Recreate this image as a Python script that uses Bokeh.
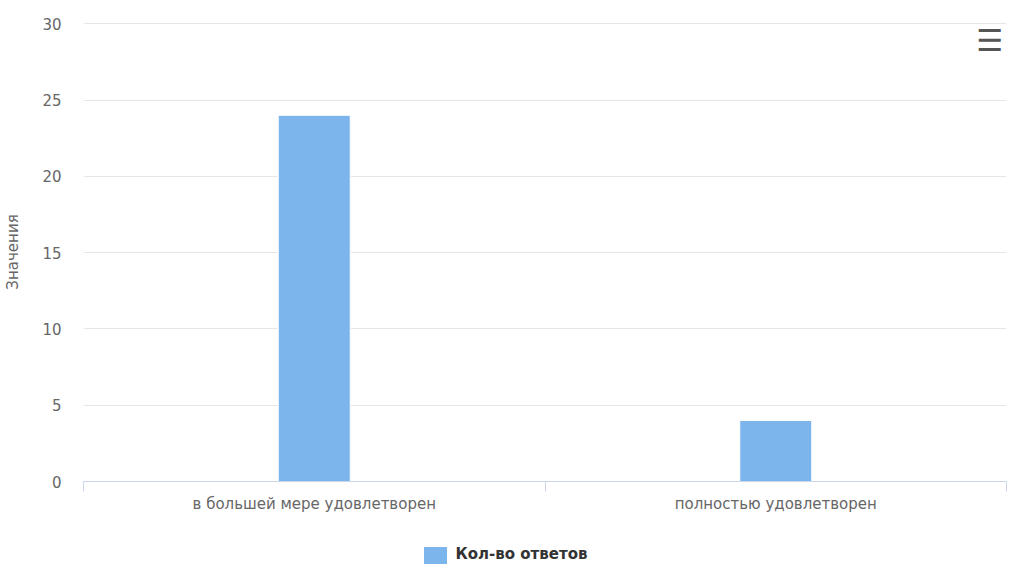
from bokeh.plotting import figure
from bokeh.models import (Range1d, FixedTicker, Label, ColumnDataSource, Div)
from bokeh.layouts import column
from bokeh.embed import file_html
from bokeh.resources import INLINE

categories = ["в большей мере удовлетворен", "полностью удовлетворен"]
values = [24, 4]
series_name = "Кол-во ответов"
series_color = "#7cb5ec"
y_ticks = [0, 5, 10, 15, 20, 25, 30]

xs = [i + 0.5 for i in range(len(categories))]
src = ColumnDataSource(dict(x=xs, top=values))

FONT = "DejaVu Sans"

p = figure(output_backend="svg", toolbar_location=None,
           frame_width=923, frame_height=459,
           min_border_left=83, min_border_right=3,
           min_border_top=22, min_border_bottom=0,
           x_range=Range1d(0, len(categories)), y_range=Range1d(0, 30.08))
p.outline_line_color = None
p.background_fill_color = "white"
p.border_fill_color = "white"

r = p.vbar(x="x", top="top", width=0.156, source=src,
           fill_color=series_color, line_color="white", line_width=1)

# x axis
xa = p.xaxis[0]
xa.ticker = FixedTicker(ticks=xs, minor_ticks=list(range(len(categories) + 1)))
xa.major_label_overrides = {x: c for x, c in zip(xs, categories)}
xa.major_tick_line_color = None
xa.major_tick_out = 0
xa.major_tick_in = 0
xa.minor_tick_line_color = "#ccd6eb"
xa.minor_tick_out = 10
xa.minor_tick_in = 0
xa.axis_line_color = "#ccd6eb"
xa.major_label_text_font = FONT
xa.major_label_text_font_size = "15px"
xa.major_label_text_color = "#666666"
xa.major_label_standoff = 3

# y axis
ya = p.yaxis[0]
ya.ticker = FixedTicker(ticks=y_ticks)
ya.axis_line_color = None
ya.major_tick_line_color = None
ya.major_tick_out = 0
ya.major_tick_in = 0
ya.minor_tick_line_color = None
ya.major_label_text_font = FONT
ya.major_label_text_font_size = "15px"
ya.major_label_text_color = "#666666"
ya.major_label_standoff = 22
ya.axis_label = "Значения"
ya.axis_label_text_font = FONT
ya.axis_label_text_font_size = "15px"
ya.axis_label_text_font_style = "normal"
ya.axis_label_text_color = "#666666"
ya.axis_label_standoff = 17

p.xgrid.grid_line_color = None
p.ygrid.grid_line_color = "#e6e6e6"
p.ygrid.ticker = FixedTicker(ticks=y_ticks)

menu = Label(x=1.964, y=28.9, text="☰",
             text_font=FONT, text_font_size="30px", text_font_style="bold",
             text_color="#555555",
             text_align="center", text_baseline="middle")
p.add_layout(menu)

legend_html = (
    '<div style="width:1009px;height:46px;display:flex;justify-content:center;'
    'align-items:center;box-sizing:border-box;padding-top:24px;padding-right:8px;">'
    f'<span style="display:inline-block;width:23px;height:17px;background:{series_color};'
    'margin-right:9px;"></span>'
    f'<span style="font-family:\'{FONT}\';font-size:15px;font-weight:bold;color:#333333;">'
    f'{series_name}</span></div>'
)
leg = Div(text=legend_html, width=1009, height=46)

layout = column(p, leg, spacing=0)

open("out.html", "w").write(file_html(layout, INLINE))
